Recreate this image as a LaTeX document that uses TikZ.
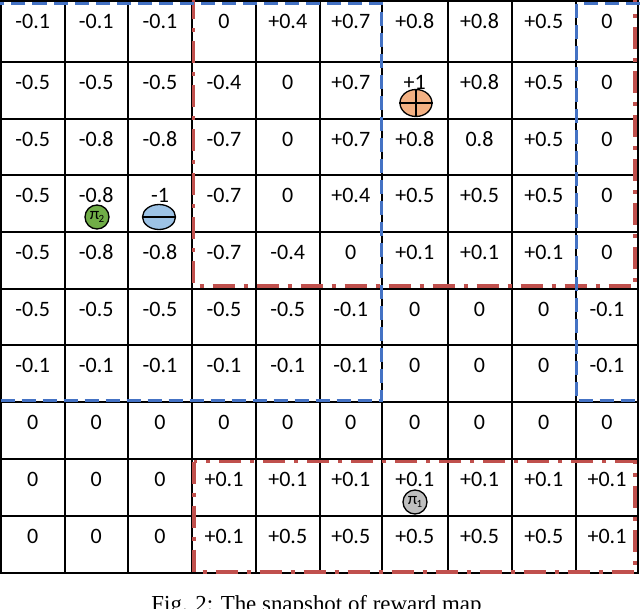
\documentclass[tikz,border=0pt]{standalone}
\usepackage{fontspec}
\setmainfont{Liberation Serif}
\newfontfamily\cellfont{Carlito}
\usetikzlibrary{shapes.geometric}
\definecolor{dblue}{HTML}{4472C4}
\definecolor{dred}{HTML}{C0504D}
\definecolor{lorange}{HTML}{F4B183}
\definecolor{lblue}{HTML}{9DC3E6}
\definecolor{lgreen}{HTML}{70AD47}
\definecolor{lgray}{HTML}{BFBFBF}
\begin{document}
\begin{tikzpicture}[x=1pt,y=-1pt,
  gridline/.style={line width=2pt, black, line cap=rect},
  val/.style={anchor=base, inner sep=0pt, font=\cellfont\fontsize{22}{22}\selectfont},
  bluebox/.style={draw=dblue, line width=3.3pt, dash pattern=on 14pt off 7pt},
  redbox/.style={draw=dred, line width=3.3pt, dash pattern=on 22pt off 9pt on 4pt off 9pt},
  token/.style={draw=black, line width=1.3pt, inner sep=0pt},
  pilabel/.style={font=\cellfont\fontsize{17}{17}\selectfont}
]
\useasboundingbox (0,0) rectangle (640,608);
\def\xs{{1,64.5,128,192,256,319.5,382,447.5,511.5,576,638}}
\def\ys{{0.5,62,118.5,175,231.5,288.5,345,401.5,459,516,573}}
% grid
\foreach \i in {0,...,10} {
  \pgfmathsetmacro{\xx}{\xs[\i]}
  \pgfmathsetmacro{\yy}{\ys[\i]}
  \draw[gridline] (\xx,0.5) -- (\xx,573);
  \draw[gridline] (1,\yy) -- (638,\yy);
}
% values
\foreach \rowvals [count=\r from 0] in {
  {-0.1,-0.1,-0.1,0,+0.4,+0.7,+0.8,+0.8,+0.5,0},
  {-0.5,-0.5,-0.5,-0.4,0,+0.7,+1,+0.8,+0.5,0},
  {-0.5,-0.8,-0.8,-0.7,0,+0.7,+0.8,0.8,+0.5,0},
  {-0.5,-0.8,-1,-0.7,0,+0.4,+0.5,+0.5,+0.5,0},
  {-0.5,-0.8,-0.8,-0.7,-0.4,0,+0.1,+0.1,+0.1,0},
  {-0.5,-0.5,-0.5,-0.5,-0.5,-0.1,0,0,0,-0.1},
  {-0.1,-0.1,-0.1,-0.1,-0.1,-0.1,0,0,0,-0.1},
  {0,0,0,0,0,0,0,0,0,0},
  {0,0,0,+0.1,+0.1,+0.1,+0.1,+0.1,+0.1,+0.1},
  {0,0,0,+0.1,+0.5,+0.5,+0.5,+0.5,+0.5,+0.1}} {
  \foreach \v [count=\c from 0] in \rowvals {
    \pgfmathsetmacro{\xl}{\xs[\c]}
    \pgfmathsetmacro{\xr}{\xs[\c+1]}
    \pgfmathsetmacro{\yt}{\ys[\r]}
    \node[val] (c\r-\c) at ({(\xl+\xr)/2},{\yt+27.5}) {\v};
  }
}
% regions
\draw[redbox] (193.5,-3) rectangle (635,286);
\draw[redbox] (194,461.5) rectangle (635,572);
\draw[bluebox] (-1.5,3.5) rectangle (381.5,400.5);
\draw[bluebox] (576.5,3.5) rectangle (641.5,400.5);
% agents
\node[token, ellipse, fill=lorange, minimum width=32pt, minimum height=27pt] (agentO) at (416,103) {};
\draw[line width=1.3pt] (agentO.north) -- (agentO.south) (agentO.west) -- (agentO.east);
\node[token, ellipse, fill=lblue, minimum width=33pt, minimum height=25pt] (agentB) at (159,217) {};
\draw[line width=1.3pt] (agentB.west) -- (agentB.east);
\node[token, circle, fill=lgreen, minimum size=24pt, pilabel] (pi2) at (97,217) {\raisebox{0pt}{π}\kern-0.5pt\raisebox{-3.5pt}{\fontsize{11}{11}\selectfont 2}};
\node[token, circle, fill=lgray, minimum size=24pt, pilabel] (pi1) at (415,502) {\raisebox{0pt}{π}\kern-0.5pt\raisebox{-3.5pt}{\fontsize{11}{11}\selectfont 1}};
% caption
\node[anchor=base, inner sep=0pt, font=\fontsize{22.9}{23}\selectfont] (cap) at (316.5,611) {Fig. 2: The snapshot of reward map};
\end{tikzpicture}
\end{document}
